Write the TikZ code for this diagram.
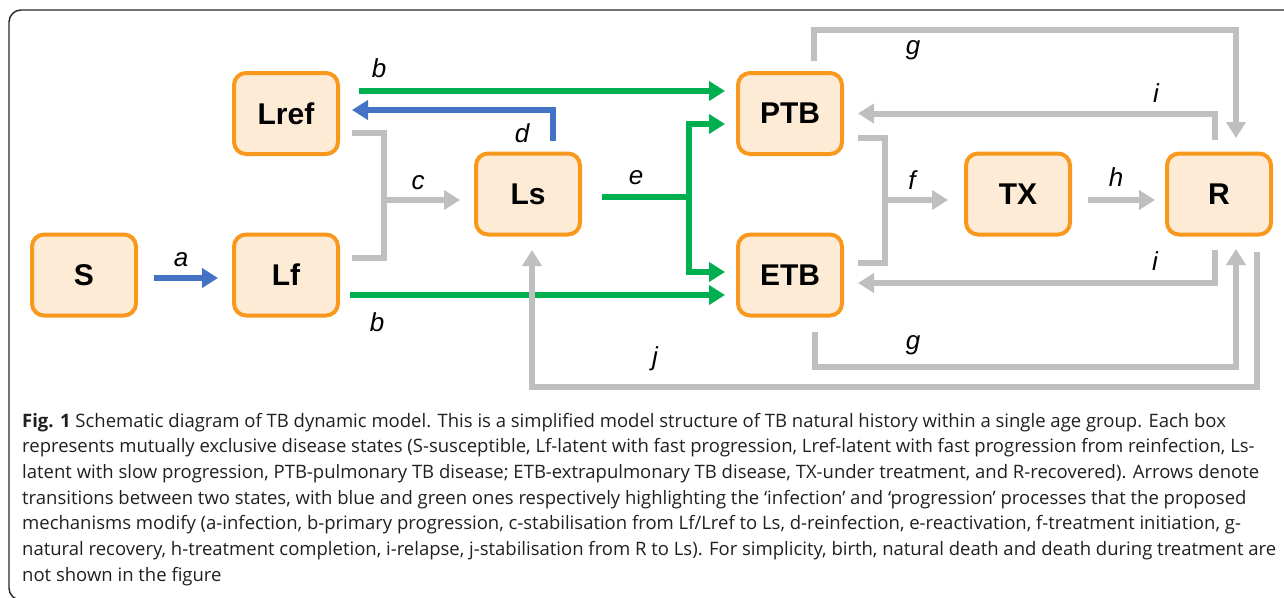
\documentclass[tikz,border=0pt]{standalone}
\usepackage{fontspec}
\setmainfont{Liberation Sans}
\newfontfamily\capfont{Open Sans}
\usetikzlibrary{arrows.meta,calc}

\definecolor{boxfill}{HTML}{FDEBD5}
\definecolor{boxline}{HTML}{F8981D}
\definecolor{flowgray}{HTML}{BFBFBF}
\definecolor{flowgreen}{HTML}{00B050}
\definecolor{flowblue}{HTML}{4472C4}
\definecolor{captext}{HTML}{231F20}

\begin{document}
\begin{tikzpicture}[x=1pt,y=-1pt,
  state/.style={draw=boxline, fill=boxfill, line width=4pt, rounded corners=12pt,
    minimum width=104pt, minimum height=81pt, inner sep=0pt,
    font=\fontsize{30}{30}\selectfont\bfseries},
  rate/.style={font=\fontsize{26}{26}\selectfont\itshape, inner sep=0pt},
  link/.style={line width=6pt},
  flow/.style={link, -{Triangle[length=16pt,width=19pt]}},
  grayline/.style={link, draw=flowgray},
  grayflow/.style={flow, draw=flowgray},
  greenline/.style={link, draw=flowgreen},
  greenflow/.style={flow, draw=flowgreen},
  blueflow/.style={flow, draw=flowblue},
  frame/.style={draw=black!85, line width=1.4pt, rounded corners=12pt},
  capline/.style={anchor=base west, inner sep=0pt, text=captext,
    font=\capfont\fontsize{18.5}{18.5}\selectfont}
]
\useasboundingbox (0,0) rectangle (1284,597);
\begin{scope}
\clip (0,0) rectangle (1284,597);
\draw[frame] (1320,10) -- (9,10) -- (9,600) -- (60,600);
\end{scope}

% disease states
\node[state] (S)    at (84,275)    {S};
\node[state] (Lf)   at (286,275)   {Lf};
\node[state] (Lref) at (286,113.5) {Lref};
\node[state] (Ls)   at (528,194)   {Ls};
\node[state] (PTB)  at (790,113.5) {PTB};
\node[state] (ETB)  at (790,275)   {ETB};
\node[state] (TX)   at (1018,194)  {TX};
\node[state] (R)    at (1219,194)  {R};

% bend points
\coordinate (cTop) at (384,133);
\coordinate (cBot) at (384,258);
\coordinate (cMid) at (384,200);
\coordinate (eJoin) at (689,197);
\coordinate (fTop) at (885,138);
\coordinate (fBot) at (885,263);
\coordinate (fMid) at (885,200);
\coordinate (gTR) at (1236,30);
\coordinate (gBR) at (1236,367);
\coordinate (jBL) at (532,387);

% infection
\draw[blueflow] ($(S.east)+(16,3)$) -- ($(Lf.west)+(-14,3)$);
\draw[blueflow] ($(Ls.north)+(25,-11)$) |- ($(Lref.east)+(12,-3.5)$);

% progression
\draw[greenflow] ($(Lref.east)+(19,-22.5)$) -- ($(PTB.west)+(-11,-22.5)$);
\draw[greenflow] ($(Lf.east)+(10,20)$) -- ($(ETB.west)+(-11,20)$);
\draw[greenline] ($(Ls.east)+(20,3)$) -- (eJoin);
\draw[greenflow] (eJoin) |- ($(PTB.west)+(-11,10.5)$);
\draw[greenflow] (eJoin) |- ($(ETB.west)+(-11,-3)$);

% stabilisation
\draw[grayline] ($(Lref.east)+(12,19.5)$) -- (cTop) -- (cBot) -- ($(Lf.east)+(12,-17)$);
\draw[grayflow] (cMid) -- ($(Ls.west)+(-14,6)$);
\draw[grayflow] ($(R.south)+(38,15.5)$) |- (jBL) -- ($(Ls.south)+(4,13.5)$);

% treatment
\draw[grayline] ($(PTB.east)+(14,24.5)$) -- (fTop) -- (fBot) -- ($(ETB.east)+(14,-12)$);
\draw[grayflow] (fMid) -- ($(TX.west)+(-16,6)$);
\draw[grayflow] ($(TX.east)+(16,6)$) -- ($(R.west)+(-10,6)$);

% natural recovery
\draw[grayflow] ($(PTB.north)+(24,-10)$) |- (gTR) -- ($(R.north)+(17,-13.5)$);
\draw[grayflow] ($(ETB.south)+(25,14.5)$) |- (gBR) -- ($(R.south)+(17,12.5)$);

% relapse
\draw[grayflow] ($(R.north)+(-4,-11.5)$) |- ($(PTB.east)+(14,0)$);
\draw[grayflow] ($(R.south)+(-4,13.5)$) |- ($(ETB.east)+(14,8)$);

% rate labels
\node[rate] (la)  at (181,260) {a};
\node[rate] (lb1) at (379,68)  {b};
\node[rate] (lb2) at (377,322) {b};
\node[rate] (lc)  at (418,183) {c};
\node[rate] (ld)  at (522,133) {d};
\node[rate] (le)  at (636,178) {e};
\node[rate] (lf)  at (912,180) {f};
\node[rate] (lg1) at (913,50)  {g};
\node[rate] (lg2) at (913,345) {g};
\node[rate] (lh)  at (1116,177) {h};
\node[rate] (li1) at (1156,93) {i};
\node[rate] (li2) at (1155,261) {i};
\node[rate] (lj)  at (655,359) {j};

% caption
\node[capline] (cap1) at (22,427.0) {\textbf{Fig. 1} Schematic diagram of TB dynamic model. This is a simplified model structure of TB natural history within a single age group. Each box};
\node[capline] (cap2) at (22,452.7) {represents mutually exclusive disease states (S-susceptible, Lf-latent with fast progression, Lref-latent with fast progression from reinfection, Ls-};
\node[capline] (cap3) at (22,478.4) {latent with slow progression, PTB-pulmonary TB disease; ETB-extrapulmonary TB disease, TX-under treatment, and R-recovered). Arrows denote};
\node[capline] (cap4) at (22,504.1) {transitions between two states, with blue and green ones respectively highlighting the ‘infection’ and ‘progression’ processes that the proposed};
\node[capline] (cap5) at (22,529.8) {mechanisms modify (a-infection, b-primary progression, c-stabilisation from Lf/Lref to Ls, d-reinfection, e-reactivation, f-treatment initiation, g-};
\node[capline] (cap6) at (22,555.5) {natural recovery, h-treatment completion, i-relapse, j-stabilisation from R to Ls). For simplicity, birth, natural death and death during treatment are};
\node[capline] (cap7) at (22,581.2) {not shown in the figure};
\end{tikzpicture}
\end{document}
